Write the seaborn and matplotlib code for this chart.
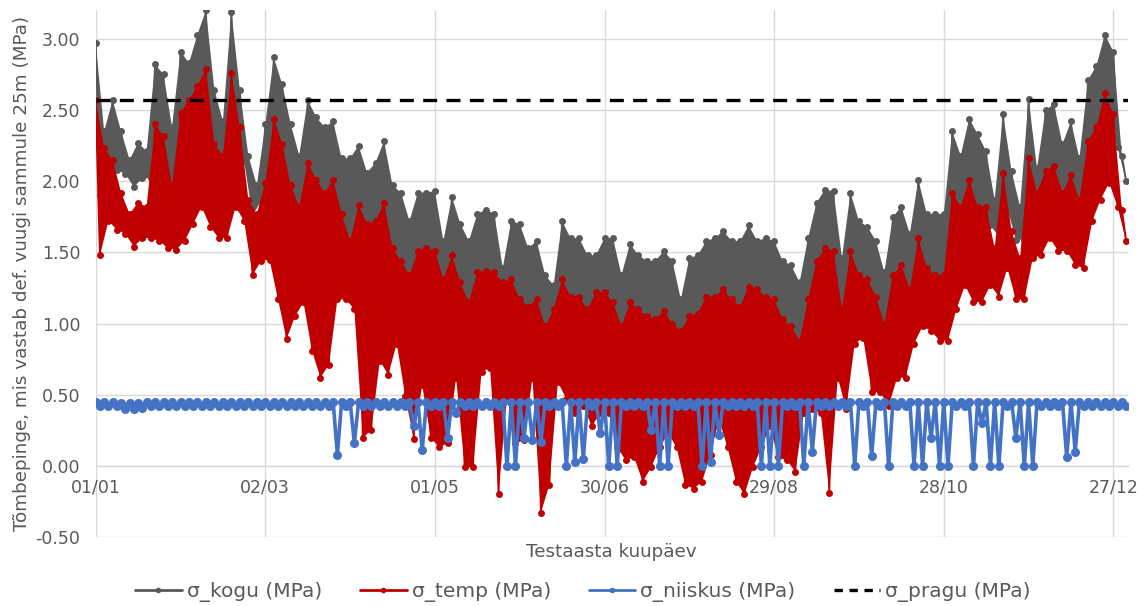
import numpy as np
import pandas as pd
import matplotlib
matplotlib.use("Agg")
import matplotlib.pyplot as plt
from matplotlib.lines import Line2D
from matplotlib.ticker import FormatStrFormatter
import seaborn as sns

# ---- data (3-day bins: max / min within each bin) ----
kogu_hi = [2.97, 2.35, 2.57, 2.35, 2.15, 2.27, 2.21, 2.82, 2.75, 2.38, 2.91, 2.83, 3.03, 3.20, 2.64, 2.42, 3.19, 2.64, 2.18, 1.97,
           2.40, 2.87, 2.68, 2.40, 2.18, 2.57, 2.45, 2.38, 2.42, 2.16, 2.16, 2.25, 2.06, 2.13, 2.28, 1.97, 1.92, 1.72, 1.92, 1.92,
           1.93, 1.58, 1.89, 1.70, 1.58, 1.77, 1.80, 1.77, 1.39, 1.72, 1.70, 1.53, 1.58, 1.34, 1.27, 1.72, 1.60, 1.60, 1.48, 1.48,
           1.60, 1.60, 1.34, 1.56, 1.48, 1.44, 1.44, 1.51, 1.44, 1.17, 1.46, 1.48, 1.58, 1.60, 1.65, 1.58, 1.58, 1.69, 1.58, 1.60,
           1.58, 1.44, 1.41, 1.29, 1.60, 1.85, 1.94, 1.93, 1.46, 1.92, 1.72, 1.68, 1.58, 1.36, 1.75, 1.82, 1.63, 2.01, 1.77, 1.77,
           1.77, 2.35, 2.18, 2.44, 2.33, 2.21, 1.87, 2.47, 2.07, 1.82, 2.58, 2.09, 2.50, 2.54, 2.26, 2.42, 2.16, 2.71, 2.81, 3.03,
           2.91, 2.18]
kogu_lo = [1.90, 2.14, 2.08, 2.05, 1.96, 2.02, 2.02, 2.00, 1.95, 1.94, 2.00, 2.12, 2.24, 2.10, 2.02, 2.02, 2.24, 2.14, 1.76, 1.86,
           1.87, 1.59, 1.31, 1.47, 1.57, 1.23, 1.04, 1.13, 1.59, 1.59, 1.52, 0.62, 0.67, 1.16, 1.06, 1.28, 0.91, 0.61, 0.99, 0.62,
           0.55, 0.58, 1.04, 0.41, 0.41, 1.08, 1.11, 0.22, 0.91, 0.58, 0.60, 1.04, 0.09, 0.29, 1.01, 0.89, 0.79, 0.84, 0.70, 0.79,
           0.79, 0.55, 0.46, 0.48, 0.31, 0.41, 0.55, 0.65, 0.55, 0.29, 0.26, 0.31, 0.50, 0.75, 0.55, 0.31, 0.22, 0.41, 0.55, 0.70,
           0.48, 0.46, 0.38, 0.79, 0.82, 0.79, 0.23, 1.04, 0.82, 1.28, 1.32, 0.94, 0.94, 0.84, 1.04, 1.04, 1.28, 1.40, 1.37, 1.30,
           1.30, 1.52, 1.69, 1.57, 1.57, 1.69, 1.61, 1.81, 1.59, 1.59, 1.88, 1.90, 2.02, 1.93, 1.93, 1.83, 1.81, 2.14, 2.29, 2.41,
           2.24, 2.00]
temp_hi = [2.57, 2.23, 2.15, 1.92, 1.77, 1.85, 1.82, 2.40, 2.32, 1.97, 2.48, 2.57, 2.67, 2.79, 2.26, 2.18, 2.76, 2.38, 1.87, 1.77,
           1.99, 2.44, 2.26, 1.97, 1.82, 2.13, 2.01, 1.92, 2.01, 1.77, 1.58, 1.83, 1.70, 1.72, 1.85, 1.53, 1.44, 1.34, 1.51, 1.53,
           1.51, 1.31, 1.48, 1.29, 1.15, 1.36, 1.37, 1.36, 1.29, 1.31, 1.17, 1.12, 1.17, 0.98, 1.10, 1.31, 1.19, 1.19, 1.10, 1.22,
           1.22, 1.15, 0.98, 1.15, 1.10, 1.05, 1.03, 1.09, 1.00, 0.95, 1.05, 1.07, 1.19, 1.19, 1.24, 1.17, 1.12, 1.26, 1.24, 1.19,
           1.17, 1.03, 0.98, 0.88, 1.17, 1.44, 1.53, 1.51, 1.10, 1.51, 1.34, 1.31, 1.19, 1.00, 1.34, 1.41, 1.24, 1.60, 1.39, 1.34,
           1.34, 1.92, 1.82, 2.01, 1.82, 1.82, 1.53, 2.06, 1.65, 1.46, 2.16, 1.92, 2.07, 2.11, 1.92, 2.04, 1.87, 2.28, 2.38, 2.62,
           2.47, 1.80]
temp_lo = [1.48, 1.72, 1.66, 1.63, 1.54, 1.60, 1.60, 1.58, 1.53, 1.52, 1.58, 1.70, 1.82, 1.68, 1.60, 1.60, 1.82, 1.72, 1.34, 1.44,
           1.45, 1.17, 0.89, 1.05, 1.15, 0.81, 0.62, 0.71, 1.17, 1.17, 1.10, 0.20, 0.25, 0.74, 0.64, 0.86, 0.49, 0.19, 0.57, 0.20,
           0.13, 0.16, 0.62, -0.01, -0.01, 0.66, 0.69, -0.20, 0.49, 0.16, 0.18, 0.62, -0.33, -0.13, 0.59, 0.47, 0.37, 0.42, 0.28, 0.37,
           0.37, 0.13, 0.04, 0.06, -0.11, -0.01, 0.13, 0.23, 0.13, -0.13, -0.16, -0.11, 0.08, 0.33, 0.13, -0.11, -0.20, -0.01, 0.13, 0.28,
           0.06, 0.04, -0.04, 0.37, 0.40, 0.37, -0.19, 0.62, 0.40, 0.86, 0.90, 0.52, 0.52, 0.42, 0.62, 0.62, 0.86, 0.98, 0.95, 0.88,
           0.88, 1.10, 1.27, 1.15, 1.15, 1.27, 1.19, 1.39, 1.17, 1.17, 1.46, 1.48, 1.60, 1.51, 1.51, 1.41, 1.39, 1.72, 1.87, 1.99,
           1.82, 1.58]
niiskus_hi = [0.45, 0.45, 0.45, 0.44, 0.44, 0.44, 0.45, 0.45, 0.45, 0.45, 0.45, 0.45, 0.45, 0.45, 0.45, 0.45, 0.45, 0.45, 0.45, 0.45,
              0.45, 0.45, 0.45, 0.45, 0.45, 0.45, 0.45, 0.45, 0.45, 0.45, 0.45, 0.45, 0.45, 0.45, 0.45, 0.45, 0.45, 0.45, 0.45, 0.45,
              0.45, 0.45, 0.45, 0.45, 0.45, 0.45, 0.45, 0.45, 0.45, 0.45, 0.45, 0.45, 0.45, 0.45, 0.45, 0.45, 0.45, 0.45, 0.45, 0.45,
              0.45, 0.45, 0.45, 0.45, 0.45, 0.45, 0.45, 0.45, 0.45, 0.45, 0.45, 0.45, 0.45, 0.45, 0.45, 0.45, 0.45, 0.45, 0.45, 0.45,
              0.45, 0.45, 0.45, 0.45, 0.45, 0.45, 0.45, 0.45, 0.45, 0.45, 0.45, 0.45, 0.45, 0.45, 0.45, 0.45, 0.45, 0.45, 0.45, 0.45,
              0.45, 0.45, 0.45, 0.45, 0.45, 0.45, 0.45, 0.45, 0.45, 0.45, 0.45, 0.45, 0.45, 0.45, 0.45, 0.45, 0.45, 0.45, 0.45, 0.45,
              0.45, 0.45]
niiskus_lo = [0.42, 0.42, 0.42, 0.40, 0.40, 0.41, 0.42, 0.42, 0.42, 0.42, 0.42, 0.42, 0.42, 0.42, 0.42, 0.42, 0.42, 0.42, 0.42, 0.42,
              0.42, 0.42, 0.42, 0.42, 0.42, 0.42, 0.42, 0.42, 0.08, 0.42, 0.16, 0.42, 0.42, 0.42, 0.42, 0.42, 0.42, 0.28, 0.11, 0.42,
              0.42, 0.20, 0.37, 0.42, 0.42, 0.42, 0.42, 0.42, 0.00, 0.00, 0.20, 0.18, 0.17, 0.42, 0.42, 0.00, 0.03, 0.05, 0.42, 0.23,
              0.00, 0.00, 0.42, 0.42, 0.42, 0.25, 0.00, 0.00, 0.42, 0.42, 0.42, 0.00, 0.03, 0.22, 0.42, 0.42, 0.42, 0.42, 0.00, 0.00,
              0.00, 0.42, 0.42, 0.00, 0.10, 0.42, 0.42, 0.42, 0.42, 0.00, 0.42, 0.07, 0.42, 0.00, 0.42, 0.42, 0.00, 0.00, 0.20, 0.00,
              0.00, 0.42, 0.42, 0.00, 0.30, 0.00, 0.00, 0.42, 0.20, 0.00, 0.00, 0.42, 0.42, 0.42, 0.06, 0.10, 0.42, 0.42, 0.42, 0.42,
              0.42, 0.42]
pragu = 2.57

tick_days = [0, 60, 120, 180, 240, 300, 360]
tick_labels = ["01/01", "02/03", "01/05", "30/06", "29/08", "28/10", "27/12"]
series_names = ["σ_kogu (MPa)", "σ_temp (MPa)", "σ_niiskus (MPa)", "σ_pragu (MPa)"]

C_KOGU = "#595959"
C_TEMP = "#C00000"
C_NIIS = "#4472C4"
C_TEXT = "#595959"
C_GRID = "#D9D9D9"

sns.set_theme(style="white")
plt.rcParams["font.family"] = ["DejaVu Sans"]

fig = plt.figure(figsize=(11.44, 6.06), dpi=100)
ax = fig.add_axes([95.7 / 1144, 1 - 537.2 / 606, (1127.5 - 95.7) / 1144, (537.2 - 10.3) / 606])

# each 3-day bin: its maximum plotted at the bin start, its minimum half a bin later
bin_start = np.linspace(0, 363, len(kogu_hi))
x_hi = bin_start
x_lo = bin_start + 1.5


def zigzag(hi, lo):
    x = np.column_stack([x_hi, x_lo]).ravel()
    y = np.column_stack([hi, lo]).ravel()
    return pd.DataFrame({"päev": x, "MPa": y})


def draw_band(hi, lo, color, z, fill=True, lw=1.4, ms=5):
    if fill:
        ax.fill(np.r_[x_hi, x_lo[::-1]], np.r_[hi, lo[::-1]], color=color, lw=0, zorder=z)
    sns.lineplot(data=zigzag(hi, lo), x="päev", y="MPa", sort=False, estimator=None,
                 color=color, lw=lw, marker="o", markersize=ms, markeredgewidth=0,
                 ax=ax, zorder=z + 0.1, legend=False)


draw_band(kogu_hi, kogu_lo, C_KOGU, 2)
draw_band(temp_hi, temp_lo, C_TEMP, 3)
draw_band(niiskus_hi, niiskus_lo, C_NIIS, 4, fill=False, lw=2.6, ms=6.5)
sns.lineplot(x=[0, 365], y=[pragu, pragu], color="black", lw=2.4,
             linestyle=(0, (4.2, 2.8)), ax=ax, zorder=6)

ax.set_xlim(0, 365)
ax.set_ylim(-0.5, 3.2)
ax.set_xticks(tick_days)
ax.set_xticklabels(tick_labels)
ax.set_yticks(np.arange(-0.5, 3.01, 0.5))
ax.yaxis.set_major_formatter(FormatStrFormatter("%.2f"))
ax.grid(True, color=C_GRID, lw=1.0)
ax.set_axisbelow(True)
for s in ["top", "right", "left"]:
    ax.spines[s].set_visible(False)
ax.spines["bottom"].set_position(("data", 0))
ax.spines["bottom"].set_color(C_GRID)
ax.spines["bottom"].set_linewidth(1.0)
ax.tick_params(axis="x", length=0, pad=9, labelsize=12.5, labelcolor=C_TEXT)
ax.tick_params(axis="y", length=0, pad=11, labelsize=12.5, labelcolor=C_TEXT)

ax.set_xlabel("Testaasta kuupäev", fontsize=13.2, color=C_TEXT)
ax.set_ylabel("Tõmbepinge, mis vastab def. vuugi sammule 25m (MPa)", fontsize=13.2, color=C_TEXT)
ax.xaxis.set_label_coords(0.5, -0.028)
ax.xaxis.label.set_va("center")
ax.yaxis.set_label_coords(-0.0714, 0.5)
ax.yaxis.label.set_va("center")

handles = [
    Line2D([], [], color=C_KOGU, lw=2, marker="o", markersize=4, markeredgewidth=0),
    Line2D([], [], color=C_TEMP, lw=2, marker="o", markersize=4, markeredgewidth=0),
    Line2D([], [], color=C_NIIS, lw=2, marker="o", markersize=4, markeredgewidth=0),
    Line2D([], [], color="black", lw=2.4, linestyle=(0, (2.5, 2.0))),
]
leg = fig.legend(handles, series_names, loc="center", bbox_to_anchor=(583 / 1144, 1 - 592 / 606),
                 ncol=4, frameon=False, fontsize=14.5, handlelength=2.3, handletextpad=0.25,
                 columnspacing=1.9)
for t in leg.get_texts():
    t.set_color(C_TEXT)

fig.savefig("out.png", dpi=100)
